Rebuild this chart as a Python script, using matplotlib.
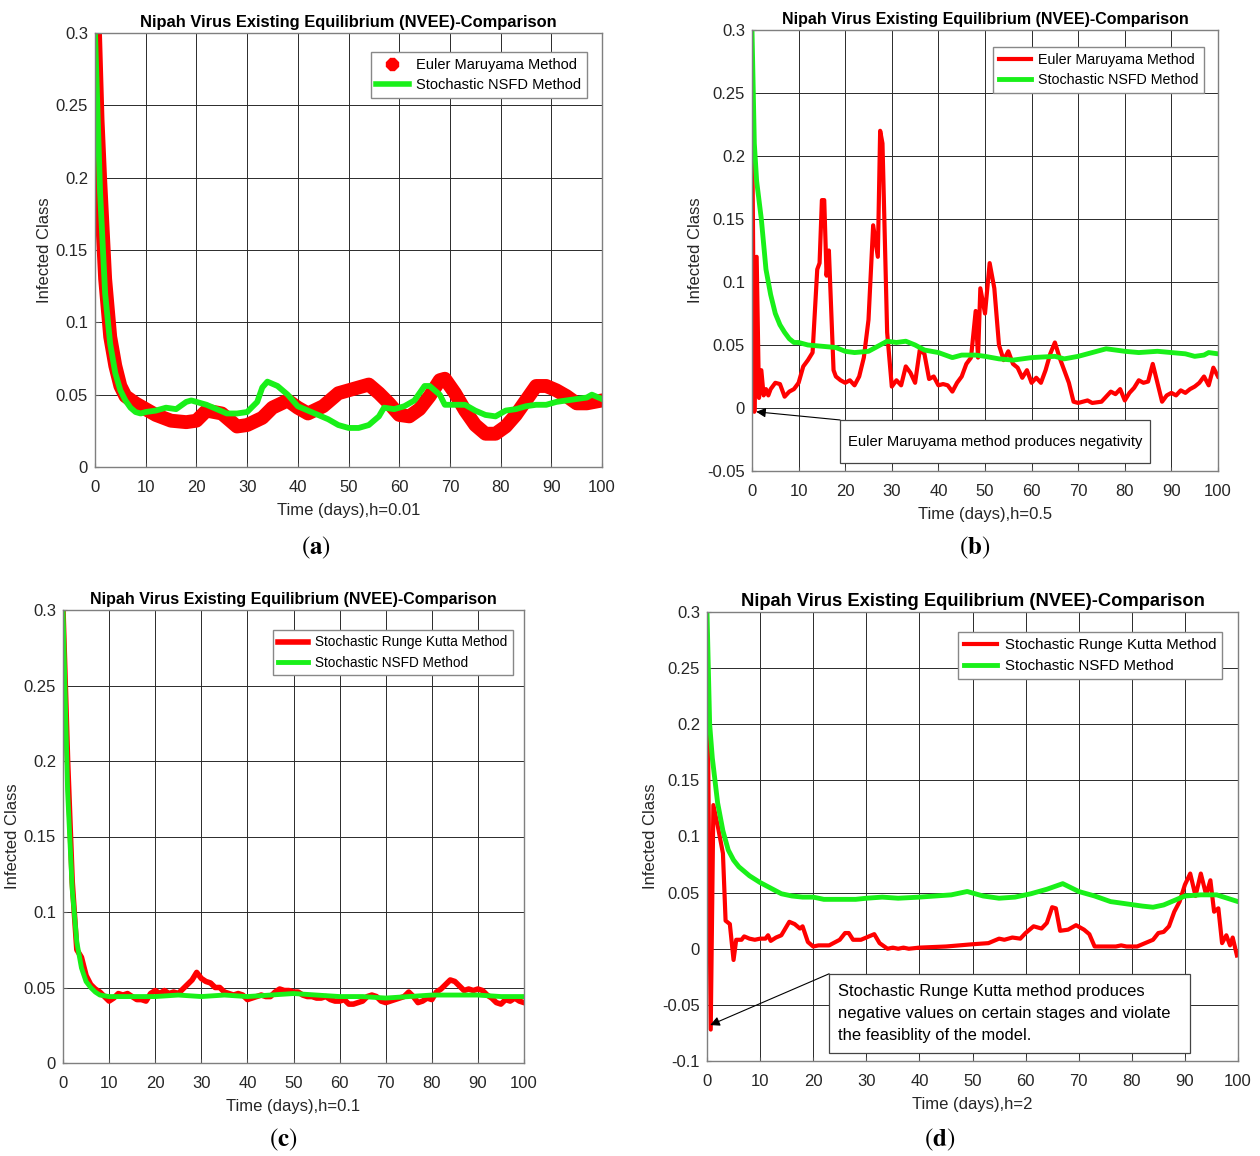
import matplotlib
matplotlib.use("Agg")
import matplotlib.pyplot as plt
from matplotlib.lines import Line2D
from matplotlib.patches import Rectangle
from matplotlib.ticker import FuncFormatter

plt.rcParams['mathtext.fontset'] = 'stix'

RED = '#ff0000'
GREEN = '#19f019'
FONT = ['Liberation Sans', 'DejaVu Sans']

TITLE = "Nipah Virus Existing Equilibrium (NVEE)-Comparison"

# (a) h=0.01
ta_em = [0, 0.5, 1, 2, 3, 4, 5, 6, 8, 10, 12, 15, 18, 20, 22, 25, 28, 30, 33, 35, 38, 40, 42, 45,
         48, 50, 52, 54, 56, 58, 60, 62, 64, 66, 68, 69, 71, 73, 75, 77, 79, 81, 83, 85, 87, 89,
         91, 93, 95, 97, 100]
ya_em = [0.3, 0.24, 0.2, 0.13, 0.09, 0.07, 0.056, 0.049, 0.044, 0.04, 0.036, 0.032, 0.031, 0.032,
         0.039, 0.037, 0.028, 0.029, 0.034, 0.041, 0.046, 0.041, 0.037, 0.042, 0.051, 0.053,
         0.055, 0.057, 0.051, 0.044, 0.036, 0.035, 0.040, 0.049, 0.060, 0.061, 0.051, 0.039,
         0.029, 0.023, 0.023, 0.028, 0.036, 0.046, 0.056, 0.056, 0.053, 0.049, 0.044, 0.044, 0.046]
ta_ns = [0, 1, 2, 3, 4, 5, 6, 7, 8, 9, 10, 12, 14, 16, 18, 19, 20, 22, 24, 26, 28, 30, 32, 33, 34,
         36, 38, 40, 42, 44, 46, 48, 50, 52, 54, 56, 57, 59, 61, 63, 65, 66, 68, 69, 71, 73, 75,
         77, 79, 81, 83, 85, 87, 89, 91, 93, 95, 97, 98, 100]
ya_ns = [0.3, 0.19, 0.12, 0.085, 0.065, 0.053, 0.046, 0.041, 0.038, 0.037, 0.038, 0.039, 0.041,
         0.040, 0.045, 0.046, 0.045, 0.043, 0.040, 0.037, 0.037, 0.038, 0.045, 0.055, 0.059,
         0.056, 0.050, 0.042, 0.039, 0.036, 0.033, 0.029, 0.027, 0.027, 0.029, 0.035, 0.041,
         0.040, 0.042, 0.046, 0.056, 0.056, 0.050, 0.043, 0.043, 0.043, 0.039, 0.036, 0.035,
         0.039, 0.040, 0.042, 0.043, 0.043, 0.045, 0.046, 0.047, 0.048, 0.050, 0.047]

# (b) h=0.5
tb_em = [0, 0.5, 1, 1.5, 2, 2.5, 3, 3.5, 4, 5, 6, 7, 8, 9, 10, 11, 12, 13, 14, 14.5, 15, 15.5,
         16, 16.5, 17.5, 18, 19, 20, 21, 22, 23, 24, 25, 26, 27, 27.5, 28, 29, 30, 31, 32, 33,
         34, 35, 36, 37, 38, 39, 40, 41, 42, 43, 44, 45, 46, 47, 48, 48.5, 49, 50, 51, 52, 53,
         54, 55, 56, 57, 58, 59, 60, 61, 62, 63, 64, 65, 66, 67, 68, 69, 70, 72, 73, 75, 76,
         77, 78, 79, 80, 81, 82, 83, 84, 85, 86, 87, 88, 89, 90, 91, 92, 93, 94, 95, 96, 97,
         98, 99, 100]
yb_em = [0.25, -0.003, 0.12, 0.008, 0.03, 0.01, 0.015, 0.01, 0.015, 0.02, 0.019, 0.009, 0.013,
         0.015, 0.02, 0.033, 0.038, 0.044, 0.11, 0.115, 0.165, 0.165, 0.105, 0.125, 0.03, 0.025,
         0.022, 0.02, 0.022, 0.018, 0.025, 0.04, 0.07, 0.145, 0.12, 0.22, 0.21, 0.06, 0.017,
         0.022, 0.018, 0.033, 0.028, 0.02, 0.046, 0.043, 0.023, 0.025, 0.018, 0.019, 0.018,
         0.013, 0.02, 0.025, 0.035, 0.04, 0.077, 0.04, 0.095, 0.075, 0.115, 0.095, 0.05, 0.038,
         0.045, 0.035, 0.032, 0.024, 0.03, 0.02, 0.024, 0.02, 0.03, 0.043, 0.052, 0.04, 0.03,
         0.02, 0.005, 0.004, 0.006, 0.004, 0.005, 0.009, 0.013, 0.011, 0.015, 0.006, 0.012,
         0.016, 0.022, 0.02, 0.021, 0.035, 0.02, 0.005, 0.01, 0.012, 0.01, 0.014, 0.012, 0.015,
         0.017, 0.02, 0.025, 0.018, 0.032, 0.025]
tb_ns = [0, 0.5, 1, 2, 3, 4, 5, 6, 7, 8, 9, 10, 12, 15, 18, 20, 22, 25, 27, 29, 31, 33, 35, 37,
         40, 43, 45, 48, 50, 53, 56, 60, 65, 67, 70, 73, 76, 80, 83, 87, 90, 93, 95, 97, 98, 100]
yb_ns = [0.3, 0.21, 0.18, 0.15, 0.11, 0.09, 0.075, 0.066, 0.06, 0.055, 0.052, 0.052, 0.05, 0.049,
         0.048, 0.045, 0.044, 0.045, 0.049, 0.053, 0.052, 0.053, 0.05, 0.046, 0.044, 0.04,
         0.042, 0.042, 0.041, 0.039, 0.038, 0.04, 0.041, 0.039, 0.041, 0.044, 0.047, 0.045,
         0.044, 0.045, 0.044, 0.043, 0.041, 0.042, 0.044, 0.043]

# (c) h=0.1
tc_rk = [0, 1, 2, 3, 4, 5, 6, 7, 8, 9, 10, 11, 12, 13, 14, 15, 16, 17, 18, 19, 20, 21, 22, 23,
         24, 25, 26, 27, 28, 29, 30, 31, 32, 33, 34, 35, 36, 37, 38, 39, 40, 41, 42, 43, 44, 45,
         46, 47, 48, 49, 50, 51, 52, 53, 54, 55, 56, 57, 58, 59, 60, 61, 62, 63, 64, 65, 66, 67,
         68, 69, 70, 71, 72, 73, 74, 75, 76, 77, 78, 79, 80, 81, 82, 83, 84, 85, 86, 87, 88, 89,
         90, 91, 92, 93, 94, 95, 96, 97, 98, 99, 100]
yc_rk = [0.3, 0.2, 0.12, 0.075, 0.07, 0.058, 0.052, 0.049, 0.047, 0.044, 0.041, 0.043, 0.046,
         0.045, 0.046, 0.044, 0.042, 0.042, 0.041, 0.046, 0.048, 0.046, 0.048, 0.046, 0.047,
         0.046, 0.049, 0.052, 0.055, 0.06, 0.056, 0.054, 0.053, 0.05, 0.05, 0.047, 0.046,
         0.045, 0.046, 0.045, 0.042, 0.043, 0.044, 0.045, 0.044, 0.044, 0.047, 0.049, 0.048,
         0.048, 0.047, 0.047, 0.045, 0.044, 0.044, 0.043, 0.043, 0.044, 0.042, 0.041, 0.041,
         0.042, 0.039, 0.039, 0.04, 0.041, 0.044, 0.045, 0.044, 0.041, 0.040, 0.041, 0.042,
         0.043, 0.044, 0.047, 0.044, 0.040, 0.041, 0.043, 0.042, 0.047, 0.049, 0.052, 0.055,
         0.054, 0.051, 0.048, 0.049, 0.048, 0.049, 0.048, 0.045, 0.043, 0.04, 0.039, 0.042,
         0.041, 0.043, 0.041, 0.040]
tc_ns = [0, 1, 2, 3, 4, 5, 6, 7, 8, 10, 15, 20, 25, 30, 35, 40, 45, 50, 55, 60, 65, 70, 75, 80,
         85, 90, 95, 100]
yc_ns = [0.3, 0.18, 0.115, 0.08, 0.063, 0.054, 0.05, 0.047, 0.045, 0.044, 0.044, 0.044, 0.045,
         0.044, 0.045, 0.044, 0.045, 0.046, 0.045, 0.044, 0.044, 0.043, 0.044, 0.045, 0.045,
         0.045, 0.044, 0.044]

# (d) h=2
td_rk = [0, 0.7, 1.2, 2, 3, 3.5, 4.3, 5, 5.5, 6.5, 7, 8, 9, 10, 11, 11.5, 12, 13, 14, 15.5,
         16.5, 17.5, 18, 19, 20, 21, 23, 25, 26, 26.7, 27.5, 29, 30.5, 31.5, 32.5, 34, 35, 36,
         37, 38, 40, 45, 50, 53, 55, 56, 57.5, 59, 60, 61.5, 63, 64, 65, 65.7, 66.5, 68, 69.5,
         71, 72, 73, 77, 78, 79, 81, 82, 84, 85, 86, 87, 88, 89, 90, 91, 92, 93, 94, 94.8, 95.5,
         96.3, 97, 97.8, 98.5, 99, 99.8]
yd_rk = [0.28, -0.072, 0.128, 0.11, 0.085, 0.025, 0.022, -0.01, 0.008, 0.008, 0.011, 0.009,
         0.008, 0.009, 0.009, 0.012, 0.007, 0.01, 0.012, 0.024, 0.022, 0.018, 0.02, 0.006, 0.002,
         0.003, 0.003, 0.008, 0.014, 0.014, 0.008, 0.008, 0.011, 0.013, 0.005, 0.0, 0.001, 0.0,
         0.001, 0.0, 0.001, 0.002, 0.004, 0.005, 0.009, 0.008, 0.01, 0.009, 0.014, 0.02, 0.018,
         0.023, 0.037, 0.036, 0.016, 0.017, 0.021, 0.017, 0.013, 0.002, 0.002, 0.003, 0.002,
         0.002, 0.004, 0.008, 0.014, 0.015, 0.02, 0.033, 0.042, 0.057, 0.067, 0.047, 0.067,
         0.048, 0.061, 0.033, 0.036, 0.005, 0.012, 0.003, 0.01, -0.006]
td_ns = [0, 0.5, 1, 2, 3, 4, 5, 6, 7, 8, 10, 12, 14, 16, 18, 20, 22, 25, 28, 30, 33, 36, 40, 43,
         46, 49, 52, 55, 58, 61, 64, 67, 70, 73, 76, 79, 82, 84, 86, 88, 90, 93, 96, 98, 100]
yd_ns = [0.3, 0.2, 0.17, 0.13, 0.105, 0.088, 0.079, 0.073, 0.069, 0.065, 0.059, 0.054, 0.049,
         0.047, 0.046, 0.046, 0.044, 0.044, 0.044, 0.045, 0.046, 0.045, 0.046, 0.047, 0.048,
         0.051, 0.047, 0.045, 0.046, 0.049, 0.053, 0.058, 0.051, 0.047, 0.042, 0.040, 0.038,
         0.037, 0.039, 0.043, 0.047, 0.048, 0.048, 0.045, 0.042]

W, H = 1260, 1156
fig = plt.figure(figsize=(W / 100, H / 100), dpi=100)


def make_axes(left, right, top, bottom):
    return fig.add_axes([left / W, 1 - bottom / H, (right - left) / W, (bottom - top) / H])


def style(ax, ylim, yticks, xlabel, fs, title_fs):
    ax.set_xlim(0, 100)
    ax.set_ylim(*ylim)
    ax.set_xticks(range(0, 101, 10))
    ax.set_yticks(yticks)
    ax.yaxis.set_major_formatter(FuncFormatter(lambda v, p: f"{round(v, 3):g}"))
    ax.grid(True, color='#2a2a2a', linewidth=0.7)
    ax.set_axisbelow(True)
    for s in ax.spines.values():
        s.set_color('#7f7f7f')
        s.set_linewidth(1.0)
    ax.tick_params(direction='in', length=3, color='#555555', labelsize=fs)
    ax.tick_params(axis='x', pad=9)
    ax.tick_params(axis='y', pad=5)
    for lab in ax.get_xticklabels() + ax.get_yticklabels():
        lab.set_family(FONT)
        lab.set_color('#262626')
    ax.set_xlabel(xlabel, family=FONT, fontsize=fs, color='#262626', labelpad=6)
    ax.set_ylabel("Infected Class", family=FONT, fontsize=fs, color='#262626', labelpad=3)
    ax.set_title(TITLE, family=FONT, fontsize=title_fs, fontweight='bold', pad=4)


def legend(ax, handles, fs, anchor):
    leg = ax.legend(handles=handles, loc='upper right', bbox_to_anchor=anchor,
                    borderaxespad=0, fancybox=False, framealpha=1,
                    edgecolor='#888888', prop={'family': FONT, 'size': fs},
                    handlelength=2.2, borderpad=0.4, labelspacing=0.45,
                    handletextpad=0.5)
    leg.get_frame().set_linewidth(1.0)


def note(ax, text, box, tip, fs, spacing=1.2):
    x0, x1, y0, y1 = box
    ax.add_patch(Rectangle((x0, y1), x1 - x0, y0 - y1, fc='white', ec='#444444', lw=0.9,
                           zorder=4))
    ax.text(x0 + (x1 - x0) * 0.025, (y0 + y1) / 2, text, ha='left', va='center',
            family=FONT, fontsize=fs, linespacing=spacing, zorder=5)
    ax.annotate('', xy=tip, xytext=(x0, y0), zorder=5,
                arrowprops=dict(arrowstyle='-|>', color='black', lw=0.8,
                                mutation_scale=14, shrinkA=0, shrinkB=0))


def panel_label(letter, x, y):
    fig.text(x / W, 1 - y / H, rf"$(\mathbf{{{letter}}})$", fontsize=18,
             ha='center', va='center')


# (a)
ax = make_axes(95, 602, 33, 467)
ax.plot(ta_em, ya_em, color=RED, linewidth=10, solid_joinstyle='round')
ax.plot(ta_ns, ya_ns, color=GREEN, linewidth=4.2)
style(ax, (0, 0.3), [0, 0.05, 0.1, 0.15, 0.2, 0.25, 0.3], "Time (days),h=0.01", 12, 11.9)
legend(ax, [Line2D([], [], color=RED, marker='8', markersize=9, linestyle='none',
                   label="Euler Maruyama Method"),
            Line2D([], [], color=GREEN, linewidth=4, label="Stochastic NSFD Method")],
       10.5, (0.970, 0.956))
panel_label('a', 316, 548)

# (b)
ax = make_axes(752, 1218, 30, 471)
ax.plot(tb_em, yb_em, color=RED, linewidth=3, label="Euler Maruyama Method")
ax.plot(tb_ns, yb_ns, color=GREEN, linewidth=3.5, label="Stochastic NSFD Method")
style(ax, (-0.05, 0.3), [-0.05, 0, 0.05, 0.1, 0.15, 0.2, 0.25, 0.3], "Time (days),h=0.5",
      12, 11.5)
legend(ax, None, 10.3, (0.970, 0.961))
note(ax, "Euler Maruyama method produces negativity", (18.9, 85.4, -0.0095, -0.0437),
     (0.9, -0.003), 10.6)
panel_label('b', 975, 548)

# (c)
ax = make_axes(63, 524, 610, 1063)
ax.plot(tc_rk, yc_rk, color=RED, linewidth=4, label="Stochastic Runge Kutta Method")
ax.plot(tc_ns, yc_ns, color=GREEN, linewidth=3.5, label="Stochastic NSFD Method")
style(ax, (0, 0.3), [0, 0.05, 0.1, 0.15, 0.2, 0.25, 0.3], "Time (days),h=0.1", 12, 11.5)
legend(ax, None, 9.8, (0.976, 0.956))
panel_label('c', 283, 1140)

# (d)
ax = make_axes(707, 1238, 612, 1061)
ax.plot(td_rk, yd_rk, color=RED, linewidth=3, label="Stochastic Runge Kutta Method")
ax.plot(td_ns, yd_ns, color=GREEN, linewidth=3.5, label="Stochastic NSFD Method")
style(ax, (-0.1, 0.3), [-0.1, -0.05, 0, 0.05, 0.1, 0.15, 0.2, 0.25, 0.3], "Time (days),h=2",
      12, 13.2)
legend(ax, None, 10.8, (0.970, 0.955))
note(ax, "Stochastic Runge Kutta method produces\nnegative values on certain stages and violate\n"
     "the feasiblity of the model.", (23.0, 91.0, -0.0223, -0.0927), (0.6, -0.068), 11.9,
     spacing=1.6)
panel_label('d', 940, 1140)

fig.savefig("out.png", dpi=100)
